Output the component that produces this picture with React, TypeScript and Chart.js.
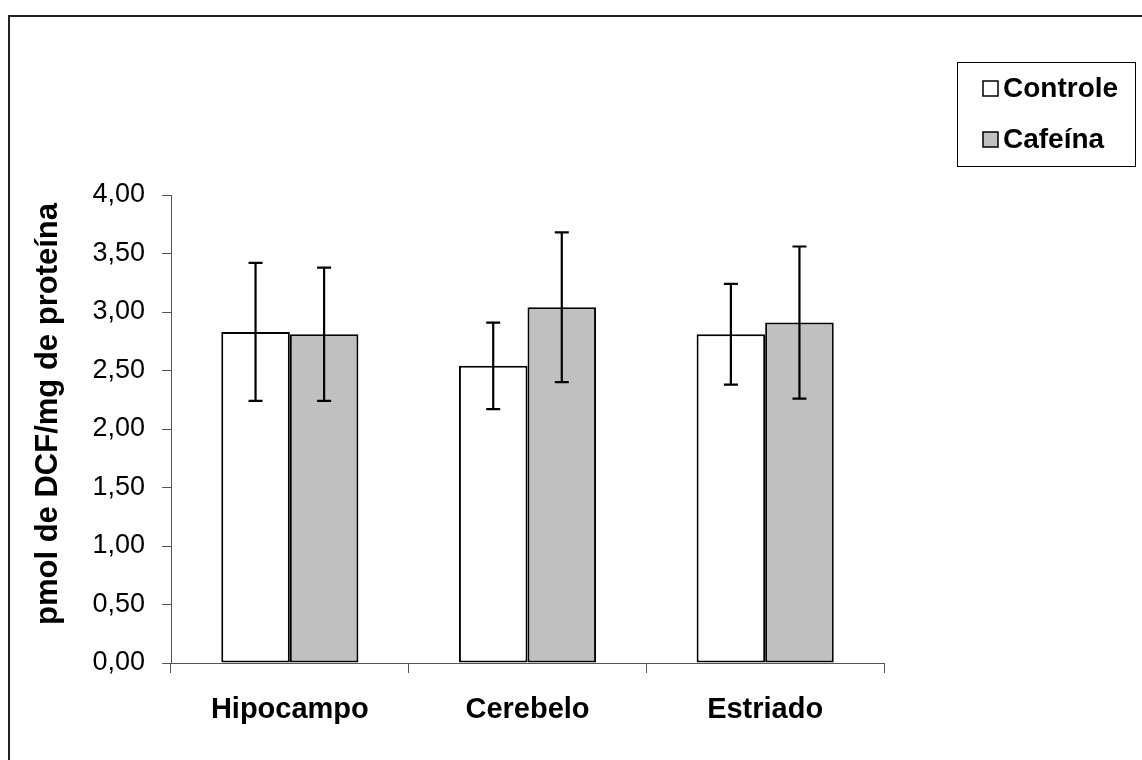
import React, { useEffect, useRef } from "react";
import { Chart, registerables } from "chart.js";

Chart.register(...registerables);

const categories = ["Hipocampo", "Cerebelo", "Estriado"];
const seriesNames = ["Controle", "Cafeína"];
const controleValues = [2.83, 2.54, 2.81];
const controleErrors = [0.59, 0.37, 0.43];
const cafeinaValues = [2.81, 3.04, 2.91];
const cafeinaErrors = [0.57, 0.64, 0.65];
const yTickLabels = ["0,00", "0,50", "1,00", "1,50", "2,00", "2,50", "3,00", "3,50", "4,00"];
const yAxisTitle = "pmol de DCF/mg de proteína";

const FONT = "'Liberation Sans', Arial, sans-serif";

const backgroundPlugin = {
  id: "bgFrame",
  beforeDraw(chart: any) {
    const ctx = chart.ctx;
    ctx.save();
    ctx.fillStyle = "#ffffff";
    ctx.fillRect(0, 0, chart.width, chart.height);
    ctx.strokeStyle = "#222";
    ctx.lineWidth = 2;
    ctx.beginPath();
    ctx.moveTo(1, chart.height);
    ctx.lineTo(1, 1);
    ctx.lineTo(chart.width, 1);
    ctx.stroke();
    ctx.restore();
  },
};

const yTitlePlugin = {
  id: "yTitle",
  afterDraw(chart: any) {
    const ctx = chart.ctx;
    const area = chart.chartArea;
    ctx.save();
    ctx.translate(40, (area.top + area.bottom) / 2 - 15);
    ctx.rotate(-Math.PI / 2);
    ctx.font = `bold 31px ${FONT}`;
    ctx.fillStyle = "#000";
    ctx.textAlign = "center";
    ctx.textBaseline = "middle";
    ctx.fillText(yAxisTitle, 0, 0);
    ctx.restore();
  },
};

const errorBarPlugin = {
  id: "errorBars",
  afterDatasetsDraw(chart: any) {
    const ctx = chart.ctx;
    const yScale = chart.scales.y;
    chart.data.datasets.forEach((ds: any, i: number) => {
      const meta = chart.getDatasetMeta(i);
      meta.data.forEach((bar: any, j: number) => {
        const v = ds.data[j];
        const e = ds.errors[j];
        const top = yScale.getPixelForValue(v + e);
        const bot = yScale.getPixelForValue(v - e);
        const x = bar.x;
        ctx.save();
        ctx.strokeStyle = "#000";
        ctx.lineWidth = 2.2;
        ctx.beginPath();
        ctx.moveTo(x, top);
        ctx.lineTo(x, bot);
        ctx.moveTo(x - 7, top);
        ctx.lineTo(x + 7, top);
        ctx.moveTo(x - 7, bot);
        ctx.lineTo(x + 7, bot);
        ctx.stroke();
        ctx.restore();
      });
    });
  },
};

const legendBoxPlugin = {
  id: "legendBox",
  afterDraw(chart: any) {
    const ctx = chart.ctx;
    const boxX = 949.5;
    const boxY = 47.5;
    const boxW = 178;
    const boxH = 104;
    ctx.save();
    ctx.strokeStyle = "#000";
    ctx.lineWidth = 1;
    ctx.strokeRect(boxX, boxY, boxW, boxH);
    ctx.font = `bold 28px ${FONT}`;
    ctx.textBaseline = "middle";
    ctx.textAlign = "left";
    chart.data.datasets.forEach((ds: any, i: number) => {
      const cy = 73 + i * 51;
      ctx.fillStyle = ds.backgroundColor;
      ctx.fillRect(975, cy - 7, 15, 15);
      ctx.strokeStyle = "#000";
      ctx.lineWidth = 1.5;
      ctx.strokeRect(975, cy - 7, 15, 15);
      ctx.fillStyle = "#000";
      ctx.fillText(ds.label, 995, cy + 1);
    });
    ctx.restore();
  },
};

export default function App() {
  const ref = useRef<HTMLCanvasElement | null>(null);

  useEffect(() => {
    if (!ref.current) return;
    const chart = new Chart(ref.current, {
      type: "bar",
      data: {
        labels: categories,
        datasets: [
          {
            label: seriesNames[0],
            data: controleValues,
            errors: controleErrors,
            backgroundColor: "#ffffff",
            borderColor: "#000000",
            borderWidth: 2,
            borderSkipped: false,
          } as any,
          {
            label: seriesNames[1],
            data: cafeinaValues,
            errors: cafeinaErrors,
            backgroundColor: "#c0c0c0",
            borderColor: "#000000",
            borderWidth: 2,
            borderSkipped: false,
          } as any,
        ],
      },
      options: {
        responsive: false,
        animation: false,
        devicePixelRatio: 1,
        categoryPercentage: 0.577,
        barPercentage: 1,
        layout: { padding: { left: 0, top: 180, right: 258, bottom: 0 } },
        plugins: {
          legend: { display: false },
          tooltip: { enabled: false },
        },
        scales: {
          x: {
            grid: {
              drawOnChartArea: false,
              drawTicks: true,
              tickLength: 10,
              color: "#555",
              offset: true,
            },
            border: { display: true, color: "#555", width: 1 },
            ticks: {
              color: "#000",
              padding: 20,
              font: { family: FONT, size: 29, weight: "bold" },
              maxRotation: 0,
            },
            afterFit(scale: any) {
              scale.height = 97;
            },
          },
          y: {
            min: 0,
            max: 4,
            grid: {
              drawOnChartArea: false,
              drawTicks: true,
              tickLength: 9,
              color: "#555",
            },
            border: { display: true, color: "#555", width: 1 },
            ticks: {
              stepSize: 0.5,
              color: "#000",
              padding: 17,
              font: { family: FONT, size: 27 },
              callback: (_v: any, i: number) => yTickLabels[i],
            },
            afterFit(scale: any) {
              scale.width = 163;
            },
          },
        },
      } as any,
      plugins: [backgroundPlugin, errorBarPlugin, legendBoxPlugin, yTitlePlugin],
    });
    return () => chart.destroy();
  }, []);

  return (
    <div style={{ position: "absolute", left: 8, top: 15, width: 1134, height: 745 }}>
      <canvas ref={ref} width={1134} height={745} style={{ display: "block" }} />
    </div>
  );
}
